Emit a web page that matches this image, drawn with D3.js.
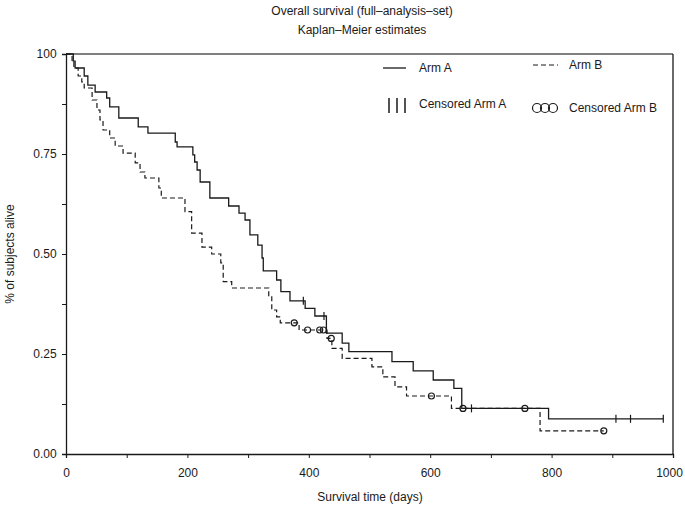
<!DOCTYPE html>
<html>
<head>
<meta charset="utf-8">
<script src="https://cdn.jsdelivr.net/npm/d3@7"></script>
<style>
  html, body { margin: 0; padding: 0; background: #fff; }
  svg { display: block; font-family: "Liberation Sans", Arial, Helvetica, sans-serif; }
</style>
</head>
<body>
<svg id="chart" width="685" height="509"></svg>
<script>
// ---- data ----
const titleLines = ["Overall survival (full\u2013analysis\u2013set)", "Kaplan\u2013Meier estimates"];
const xTickValues = [0, 200, 400, 600, 800, 1000];
const yTickValues = [0, 0.25, 0.5, 0.75, 1];
const yTickLabels = ["0.00", "0.25", "0.50", "0.75", "100"];

const armATimes = [12, 15, 30, 36, 48, 67, 72, 87, 119, 135, 180, 183, 209, 212, 216, 221, 237, 268, 285, 295, 303, 316, 323, 325, 347, 354, 369, 394, 410, 429, 455, 466, 537, 572, 605, 639, 652, 795];
const armASurv  = [0.982, 0.965, 0.945, 0.922, 0.905, 0.89, 0.868, 0.84, 0.818, 0.802, 0.78, 0.768, 0.748, 0.73, 0.71, 0.68, 0.64, 0.62, 0.602, 0.585, 0.548, 0.522, 0.49, 0.458, 0.435, 0.406, 0.383, 0.364, 0.345, 0.302, 0.277, 0.256, 0.231, 0.208, 0.185, 0.164, 0.114, 0.088];
const armACensored = [391, 425, 668, 906, 930, 984];

const armBTimes = [10, 13, 20, 26, 30, 43, 51, 56, 61, 72, 81, 94, 114, 122, 130, 153, 157, 196, 207, 224, 240, 255, 259, 273, 334, 339, 347, 353, 384, 430, 438, 455, 504, 522, 542, 561, 635, 781];
const armBSurv  = [0.982, 0.965, 0.945, 0.93, 0.915, 0.885, 0.86, 0.835, 0.81, 0.79, 0.77, 0.752, 0.728, 0.705, 0.69, 0.665, 0.64, 0.606, 0.552, 0.517, 0.5, 0.478, 0.431, 0.415, 0.393, 0.36, 0.343, 0.328, 0.31, 0.289, 0.264, 0.239, 0.218, 0.193, 0.168, 0.145, 0.114, 0.058];
const armBCensored = [376, 398, 418, 424, 437, 602, 654, 756, 886];

// ---- layout ----
const svg = d3.select("#chart");
const x = d3.scaleLinear().domain([0, 1000]).range([66, 673]);
const y = d3.scaleLinear().domain([0, 1]).range([454, 54]);
const ink = "#1a1a1a";

// titles
svg.selectAll("text.title").data(titleLines).join("text")
  .attr("class", "title")
  .attr("x", 362).attr("y", (d, i) => 15 + i * 19)
  .attr("text-anchor", "middle")
  .attr("font-size", 12).attr("fill", ink)
  .text(d => d);

// frame (top and right)
svg.append("line").attr("x1", x(0)).attr("x2", x(1000)).attr("y1", y(1)).attr("y2", y(1))
  .attr("stroke", "#555").attr("stroke-width", 1.6);
svg.append("line").attr("x1", x(1000)).attr("x2", x(1000)).attr("y1", y(1)).attr("y2", y(0))
  .attr("stroke", ink).attr("stroke-width", 1.3);

// axes
const xAxis = d3.axisBottom(x).tickValues(d3.range(0, 1001, 100)).tickSize(4)
  .tickFormat(d => xTickValues.includes(d) ? d : "");
const gx = svg.append("g").attr("transform", `translate(0,${y(0)})`).call(xAxis);
gx.select(".domain").attr("stroke", ink).attr("stroke-width", 1.3);
gx.selectAll(".tick line").attr("stroke", ink);
gx.selectAll(".tick text").attr("font-size", 12).attr("fill", ink).attr("dy", "1.3em")
  .attr("font-family", "Liberation Sans, Arial, sans-serif")
  .attr("dx", d => d === 1000 ? -4 : 0);

const yAxis = d3.axisLeft(y).tickValues(d3.range(0, 1.0001, 0.125)).tickSize(4)
  .tickFormat(d => { const i = yTickValues.findIndex(v => Math.abs(v - d) < 1e-6); return i >= 0 ? yTickLabels[i] : ""; });
const gy = svg.append("g").attr("transform", `translate(${x(0)},0)`).call(yAxis);
gy.select(".domain").attr("stroke", ink).attr("stroke-width", 1.3);
gy.selectAll(".tick line").attr("stroke", ink);
gy.selectAll(".tick text").attr("font-size", 12).attr("fill", ink).attr("dx", "-0.2em")
  .attr("font-family", "Liberation Sans, Arial, sans-serif");

// axis titles
svg.append("text").attr("x", 370).attr("y", 501).attr("text-anchor", "middle")
  .attr("font-size", 12).attr("fill", ink).text("Survival time (days)");
svg.append("text").attr("transform", "translate(14,254) rotate(-90)").attr("text-anchor", "middle")
  .attr("font-size", 12).attr("fill", ink).text("% of subjects alive");

// curves
function kmPoints(times, surv, endT) {
  const pts = [[0, 1]];
  times.forEach((t, i) => pts.push([t, surv[i]]));
  pts.push([endT, surv[surv.length - 1]]);
  return pts;
}
function survAt(times, surv, t) {
  let s = 1;
  times.forEach((tt, i) => { if (tt <= t) s = surv[i]; });
  return s;
}
const line = d3.line().x(d => x(d[0])).y(d => y(d[1])).curve(d3.curveStepAfter);

svg.append("path").datum(kmPoints(armBTimes, armBSurv, d3.max(armBCensored)))
  .attr("d", line).attr("fill", "none").attr("stroke", ink).attr("stroke-width", 1.2)
  .attr("stroke-dasharray", "5,3");
svg.append("path").datum(kmPoints(armATimes, armASurv, d3.max(armACensored)))
  .attr("d", line).attr("fill", "none").attr("stroke", ink).attr("stroke-width", 1.3);

// censor marks
svg.selectAll("line.censA").data(armACensored).join("line").attr("class", "censA")
  .attr("x1", d => x(d)).attr("x2", d => x(d))
  .attr("y1", d => y(survAt(armATimes, armASurv, d)) - 4)
  .attr("y2", d => y(survAt(armATimes, armASurv, d)) + 4)
  .attr("stroke", ink).attr("stroke-width", 1.2);
svg.selectAll("circle.censB").data(armBCensored).join("circle").attr("class", "censB")
  .attr("cx", d => x(d)).attr("cy", d => y(survAt(armBTimes, armBSurv, d)))
  .attr("r", 3).attr("fill", "none").attr("stroke", ink).attr("stroke-width", 1.2);

// legend
const lg = svg.append("g");
lg.append("line").attr("x1", 383).attr("x2", 406).attr("y1", 68).attr("y2", 68)
  .attr("stroke", ink).attr("stroke-width", 1.3);
lg.append("text").attr("x", 419).attr("y", 72).attr("font-size", 12).attr("fill", ink).text("Arm A");
lg.append("line").attr("x1", 533).attr("x2", 558).attr("y1", 65).attr("y2", 65)
  .attr("stroke", ink).attr("stroke-width", 1.2).attr("stroke-dasharray", "5,3");
lg.append("text").attr("x", 569).attr("y", 69).attr("font-size", 12).attr("fill", ink).text("Arm B");
[389, 397, 405].forEach(px => lg.append("line").attr("x1", px).attr("x2", px).attr("y1", 98).attr("y2", 113)
  .attr("stroke", ink).attr("stroke-width", 1.5));
lg.append("text").attr("x", 419).attr("y", 108).attr("font-size", 12).attr("fill", ink).text("Censored Arm A");
[537, 545, 553].forEach(px => lg.append("circle").attr("cx", px).attr("cy", 108).attr("r", 4.5)
  .attr("fill", "none").attr("stroke", ink).attr("stroke-width", 1.2));
lg.append("text").attr("x", 569).attr("y", 112).attr("font-size", 12).attr("fill", ink).text("Censored Arm B");
</script>
</body>
</html>
